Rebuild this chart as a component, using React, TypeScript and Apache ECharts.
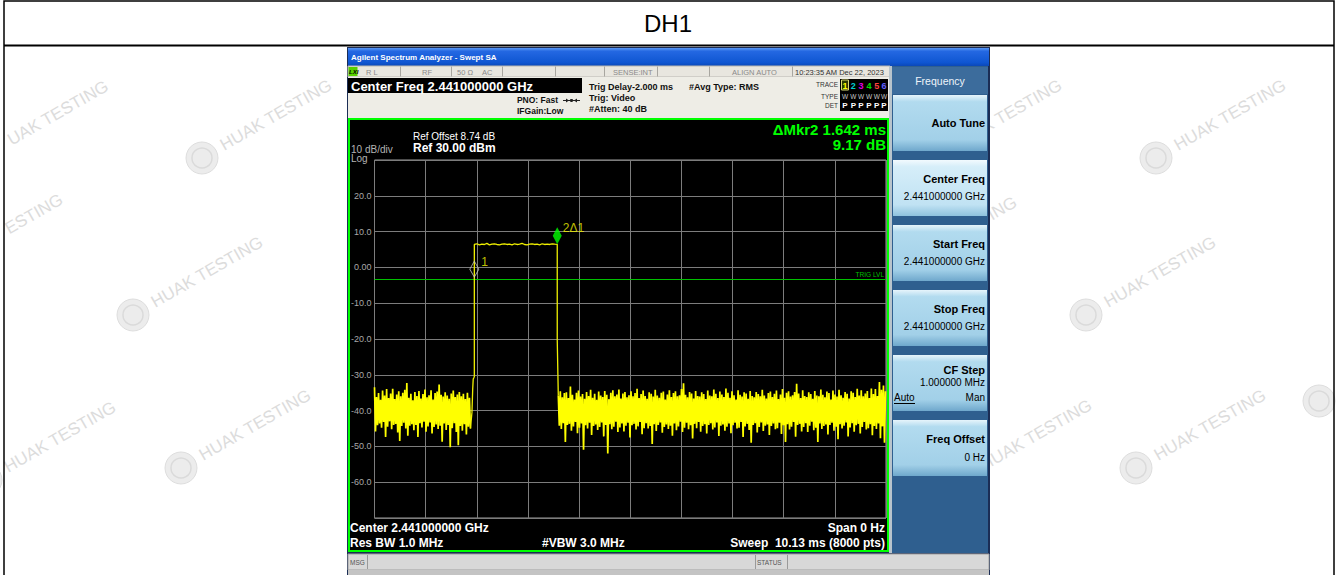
import React, { useEffect, useRef } from "react";
import * as echarts from "echarts";

const F = '"Liberation Sans", Arial, Helvetica, sans-serif';

// ---------------- chart data ----------------
const SWEEP_MS = 10.13;
const X_DIVISIONS = 10;
const REF_LEVEL_DBM = 30;
const BOTTOM_DBM = -70;
const DB_PER_DIV = 10;
const Y_TICK_VALUES = [20, 10, 0, -10, -20, -30, -40, -50, -60];
const Y_TICK_LABELS = ["20.0", "10.0", "0.00", "-10.0", "-20.0", "-30.0", "-40.0", "-50.0", "-60.0"];

const SAMPLE_STEP_MS = 0.02;
const NOISE_BEFORE_DBM = [
  -33.5, -45.8, -36.2, -44.1, -35.1, -43.6, -37.0, -44.8, -34.4, -43.2,
  -35.8, -47.4, -34.0, -44.5, -36.5, -43.0, -35.2, -45.2, -33.9, -44.0,
  -36.8, -43.7, -35.5, -46.1, -34.6, -48.5, -36.0, -44.3, -35.0, -43.4,
  -34.2, -45.0, -32.3, -47.0, -36.4, -44.2, -35.3, -43.8, -37.1, -45.5,
  -34.8, -44.0, -35.9, -47.4, -34.5, -43.5, -36.6, -44.7, -35.4, -43.1,
  -34.1, -45.9, -36.3, -44.4, -35.7, -43.3, -34.3, -46.4, -36.9, -44.6,
  -35.1, -43.9, -34.7, -45.1, -32.7, -44.2, -35.6, -48.7, -36.1, -43.6,
  -34.9, -45.4, -35.8, -44.0, -36.7, -50.2, -35.2, -44.9, -34.4, -43.5,
  -36.2, -46.0, -35.5, -49.7, -34.8, -44.3, -36.0, -45.6, -35.3, -43.8,
  -36.8, -46.7, -35.0, -44.5, -36.4, -45.0,
];
const RISE_EDGE = [
  [1.93, -40.5], [1.945, -34.0], [1.955, -31.2], [1.968, -30.8], [1.977, -30.5],
];
const PULSE_START_MS = 1.977;
const PULSE_END_MS = 3.619;
const PULSE_TOP_DBM = [
  6.4, 6.6, 6.3, 6.5, 6.4, 6.7, 6.3, 6.5, 6.6, 6.4, 6.3, 6.5, 6.6, 6.4, 6.5, 6.3, 6.6,
  6.4, 6.5, 6.7, 6.4, 6.3, 6.5, 6.6, 6.4, 6.5, 6.3, 6.6, 6.4, 6.5, 6.4, 6.6, 6.5, 6.45,
];
const FALL_EDGE_DBM = -20.2;
const NOISE_AFTER_START_MS = 3.64;
const NOISE_AFTER_DBM = [
  -35.8, -44.2, -34.6, -45.1, -36.3, -43.5, -35.1, -48.8, -34.9, -44.0,
  -36.5, -43.7, -33.3, -45.6, -35.6, -44.4, -36.9, -43.2, -35.0, -46.3,
  -34.4, -44.8, -36.1, -43.6, -35.4, -50.9, -36.7, -44.1, -34.8, -45.0,
  -35.9, -43.4, -34.2, -46.8, -36.4, -44.3, -35.3, -43.9, -37.0, -45.4,
  -34.7, -44.6, -35.8, -43.3, -36.2, -47.2, -34.5, -44.0, -35.6, -52.0,
  -36.8, -43.8, -35.0, -45.2, -34.3, -44.5, -36.0, -43.1, -35.5, -46.0,
  -34.1, -44.7, -36.6, -43.6, -35.2, -45.8, -34.8, -44.2, -36.3, -43.4,
  -35.7, -47.5, -34.6, -44.1, -36.0, -43.7, -35.1, -45.3, -33.9, -44.4,
  -36.5, -43.2, -35.4, -46.6, -34.4, -44.9, -35.9, -43.5, -36.7, -45.0,
  -34.9, -44.3, -35.3, -49.3, -36.1, -43.8, -34.2, -45.7, -35.8, -44.0,
  -36.4, -43.3, -35.0, -46.2, -34.7, -44.6, -36.9, -43.9, -35.5, -45.1,
  -34.3, -44.2, -36.2, -47.0, -35.1, -43.6, -34.6, -45.5, -36.0, -44.4,
  -35.7, -43.1, -34.0, -46.0, -32.4, -44.8, -35.6, -43.4, -36.3, -45.2,
  -34.8, -44.1, -35.2, -47.8, -36.6, -43.7, -34.5, -44.9, -35.9, -43.2,
  -36.1, -45.9, -34.9, -44.3, -35.4, -43.8, -36.8, -46.4, -34.4, -44.0,
  -35.8, -43.5, -36.0, -45.3, -34.1, -44.7, -35.3, -43.3, -36.5, -47.1,
  -34.7, -44.2, -35.5, -43.9, -36.2, -45.6, -33.8, -44.5, -35.0, -43.6,
  -36.4, -46.3, -34.6, -44.1, -35.7, -43.4, -36.9, -45.0, -34.3, -44.8,
  -35.6, -43.2, -36.1, -47.4, -34.9, -44.4, -35.2, -43.7, -36.7, -45.4,
  -34.5, -49.0, -35.9, -44.0, -36.3, -43.5, -34.8, -46.1, -35.4, -44.6,
  -36.0, -43.3, -34.2, -45.7, -35.8, -44.2, -36.6, -43.9, -35.1, -46.8,
  -34.7, -44.3, -36.2, -43.6, -35.3, -45.2, -34.4, -44.9, -36.8, -43.4,
  -35.5, -46.5, -34.0, -44.1, -36.4, -48.8, -35.0, -43.8, -34.6, -45.3,
  -36.1, -44.5, -35.7, -43.2, -34.8, -47.3, -32.5, -44.0, -35.2, -43.7,
  -36.5, -45.8, -34.3, -44.6, -35.9, -43.5, -36.2, -46.0, -34.9, -44.2,
  -35.4, -43.1, -36.7, -45.5, -34.5, -44.8, -35.8, -48.8, -36.0, -43.6,
  -34.1, -45.1, -35.6, -44.3, -36.3, -43.9, -34.7, -46.7, -35.1, -44.0,
  -36.9, -43.4, -34.4, -45.6, -35.5, -44.5, -36.1, -48.0, -34.2, -43.8,
  -35.7, -45.0, -36.4, -44.2, -34.8, -43.3, -35.3, -47.2, -36.6, -44.7,
  -34.6, -43.5, -35.0, -45.9, -36.2, -44.1, -33.9, -43.7, -35.8, -46.4,
  -34.3, -44.6, -36.0, -43.2, -35.2, -45.3, -34.5, -44.9, -36.5, -43.8,
  -33.8, -46.9, -35.4, -44.3, -34.0, -45.1, -35.9, -43.6, -32.0, -47.7,
  -34.2, -44.4, -33.0, -49.0, -34.6,
];
const MARKER_1 = [1.977, -2.72];
const MARKER_2 = [3.619, 6.45];
const TRIG_LEVEL_DBM = -3.3;

// ---------------- graphic helpers ----------------
const rect = (x: number, y: number, w: number, h: number, fill: any, z = 3, extra: any = {}) => ({
  type: "rect", shape: { x, y, width: w, height: h }, style: { fill, ...extra }, z, silent: true,
});
const txt = (x: number, y: number, text: string, font: string, fill: string, align = "left", z = 4) => ({
  type: "text", x, y, style: { text, font, fill, textAlign: align, textVerticalAlign: "middle" }, z, silent: true,
});
const ln = (x1: number, y1: number, x2: number, y2: number, stroke: string, lw = 1, z = 3) => ({
  type: "line", shape: { x1, y1, x2, y2 }, style: { stroke, lineWidth: lw }, z, silent: true,
});

const WM_ANGLE = 0.52;
const wmText = (cx: number, cy: number, text: string) => ({
  type: "text", x: cx, y: cy, rotation: WM_ANGLE, z: 1, silent: true,
  style: { text, font: `17px ${F}`, fill: "#dcdcdc", textAlign: "center", textVerticalAlign: "middle" },
});
const wmLogo = (lx: number, ly: number) => [
  { type: "circle", shape: { cx: lx, cy: ly, r: 16 }, style: { fill: "#ececec", stroke: "#dedede", lineWidth: 1 }, z: 1, silent: true },
  { type: "circle", shape: { cx: lx, cy: ly, r: 10 }, style: { fill: "none", stroke: "#dadada", lineWidth: 1.5 }, z: 1, silent: true },
];
function watermark(cx: number, cy: number) {
  return [wmText(cx, cy, "HUAK TESTING"), ...wmLogo(cx - 74, cy + 43)];
}

function buildGraphic() {
  const els: any[] = [];
  // watermarks (partial ones at the page edges show only their visible letters)
  els.push(wmText(58, 113, "UAK TESTING"));
  els.push(wmText(34, 214, "ESTING"));
  els.push(...wmLogo(1319, 401));
  [[276, 115], [207, 272], [60, 437], [255, 425],
   [1006, 115], [1230, 115], [961, 232], [1160, 272], [1036, 435], [1210, 425]]
    .forEach(([x, y]) => els.push(...watermark(x, y)));

  // page table
  els.push({ type: "rect", shape: { x: 4, y: 1, width: 1330, height: 620 }, style: { fill: "none", stroke: "#000", lineWidth: 1.5 }, z: 2, silent: true });
  els.push(ln(4, 45.5, 1334, 45.5, "#000", 2, 2));
  els.push(txt(668, 23, "DH1", `24px ${F}`, "#000", "center", 2));

  // screenshot frame
  els.push(rect(347, 47, 643, 530, "#1b2d55", 3));
  const titleGrad = new echarts.graphic.LinearGradient(0, 0, 0, 1, [
    { offset: 0, color: "#5a98f4" }, { offset: 0.18, color: "#2468e2" },
    { offset: 0.8, color: "#0f56d2" }, { offset: 1, color: "#0a48b8" },
  ]);
  els.push(rect(348, 48, 641, 18, titleGrad, 3));
  els.push(txt(351, 57.5, "Agilent Spectrum Analyzer - Swept SA", `bold 8px ${F}`, "#ffffff", "left", 4));

  // status row
  els.push(rect(348, 66, 542, 11, "#e8e6df", 3, { stroke: "#b8b6b0", lineWidth: 1 }));
  els.push(rect(348.5, 67, 9, 9, "#58d000", 4));
  els.push(txt(349, 71.8, "LXI", `italic bold 6px ${F}`, "#000", "left", 5));
  [400, 451, 502, 555, 604, 657, 709, 792].forEach((x) => els.push(ln(x + 0.5, 66.5, x + 0.5, 76.5, "#a8a6a0", 1, 4)));
  const sFont = `7.5px ${F}`;
  els.push(txt(366, 72, "R L", sFont, "#8a8a8a", "left", 4));
  els.push(txt(422, 72, "RF", sFont, "#8a8a8a", "left", 4));
  els.push(txt(457, 72, "50 Ω", sFont, "#8a8a8a", "left", 4));
  els.push(txt(482, 72, "AC", sFont, "#8a8a8a", "left", 4));
  els.push(txt(613, 72, "SENSE:INT", sFont, "#8a8a8a", "left", 4));
  els.push(txt(732, 72, "ALIGN AUTO", sFont, "#8a8a8a", "left", 4));
  els.push(txt(795, 72, "10:23:35 AM Dec 22, 2023", sFont, "#333333", "left", 4));

  // second row
  els.push(rect(348, 77, 542, 41, "#eeede6", 3));
  els.push(rect(348, 78, 234, 15, "#000000", 4));
  els.push(txt(351, 86, "Center Freq 2.441000000 GHz", `bold 13px ${F}`, "#ffffff", "left", 5));
  const bFont = `bold 8.5px ${F}`;
  els.push(txt(558, 100, "PNO: Fast", bFont, "#111", "right", 4));
  els.push(ln(563, 100.5, 580, 100.5, "#222", 1, 4));
  els.push({ type: "circle", shape: { cx: 571.5, cy: 100.5, r: 1.6 }, style: { fill: "#222" }, z: 4, silent: true });
  els.push({ type: "polygon", shape: { points: [[566, 98.5], [569, 100.5], [566, 102.5]] }, style: { fill: "#222" }, z: 4, silent: true });
  els.push({ type: "polygon", shape: { points: [[577, 98.5], [574, 100.5], [577, 102.5]] }, style: { fill: "#222" }, z: 4, silent: true });
  els.push(txt(517, 111, "IFGain:Low", bFont, "#111", "left", 4));
  const tFont = `bold 9px ${F}`;
  els.push(txt(589, 86.5, "Trig Delay-2.000 ms", tFont, "#111", "left", 4));
  els.push(txt(589, 98, "Trig: Video", tFont, "#111", "left", 4));
  els.push(txt(589, 109, "#Atten: 40 dB", tFont, "#111", "left", 4));
  els.push(txt(689, 86.5, "#Avg Type: RMS", tFont, "#111", "left", 4));

  // trace box
  const tiny = `6.5px ${F}`;
  els.push(txt(838, 84.5, "TRACE", tiny, "#333", "right", 4));
  els.push(txt(838, 96, "TYPE", tiny, "#333", "right", 4));
  els.push(txt(838, 105.5, "DET", tiny, "#333", "right", 4));
  els.push(rect(840, 79, 48, 32, "#000", 4));
  els.push(rect(841.5, 80, 7, 10, "#2b3a00", 5, { stroke: "#d8d870", lineWidth: 1 }));
  const trCols = ["#ffff00", "#00d0d0", "#e000e0", "#00e000", "#ff4040", "#6060ff"];
  const trX = [845, 853.3, 861, 869, 876.7, 884];
  trX.forEach((x, i) => {
    els.push(txt(x, 85.5, String(i + 1), `bold 9px ${F}`, trCols[i], "center", 6));
    els.push(txt(x, 96, "W", `6.5px ${F}`, "#c8c8c8", "center", 6));
    els.push(txt(x, 105.5, "P", `bold 8px ${F}`, "#ffffff", "center", 6));
  });

  // graph black area
  els.push(rect(349, 119, 539, 432, "#000000", 3, { stroke: "#00ff00", lineWidth: 2 }));
  els.push(rect(889, 66, 3, 487, "#b8c4cc", 3));

  // right soft-key panel
  els.push(rect(892, 66, 96, 487, "#2f5f8f", 3));
  els.push(rect(892, 67, 96, 27, "#3c6c9c", 4));
  els.push(txt(940, 81, "Frequency", `10.5px ${F}`, "#eef4fa", "center", 5));
  const btn = (y: number, light: boolean) => {
    const g = new echarts.graphic.LinearGradient(0, 0, 0, 1, light
      ? [{ offset: 0, color: "#f2fafe" }, { offset: 0.12, color: "#d6eef9" }, { offset: 0.8, color: "#c0e2f3" }, { offset: 1, color: "#8fc2de" }]
      : [{ offset: 0, color: "#e6f4fb" }, { offset: 0.12, color: "#b2dbef" }, { offset: 0.8, color: "#a2d0e8" }, { offset: 1, color: "#6fa8cc" }]);
    els.push(rect(893, y, 94, 56, g, 4));
  };
  [95, 160, 225, 290, 355, 420].forEach((y, i) => btn(y, i === 1));
  const bt = `bold 11px ${F}`;
  const bv = `10px ${F}`;
  els.push(txt(985, 123, "Auto Tune", bt, "#000", "right", 5));
  els.push(txt(985, 178.5, "Center Freq", bt, "#000", "right", 5));
  els.push(txt(985, 196.5, "2.441000000 GHz", bv, "#000", "right", 5));
  els.push(txt(985, 243.5, "Start Freq", bt, "#000", "right", 5));
  els.push(txt(985, 261.5, "2.441000000 GHz", bv, "#000", "right", 5));
  els.push(txt(985, 309, "Stop Freq", bt, "#000", "right", 5));
  els.push(txt(985, 326.5, "2.441000000 GHz", bv, "#000", "right", 5));
  els.push(txt(985, 369.5, "CF Step", bt, "#000", "right", 5));
  els.push(txt(985, 382.5, "1.000000 MHz", bv, "#000", "right", 5));
  els.push(txt(894, 397.5, "Auto", bv, "#000", "left", 5));
  els.push(ln(894, 403.5, 915, 403.5, "#000", 1, 5));
  els.push(txt(985, 397.5, "Man", bv, "#000", "right", 5));
  els.push(txt(985, 439, "Freq Offset", bt, "#000", "right", 5));
  els.push(txt(985, 457.5, "0 Hz", bv, "#000", "right", 5));

  // MSG bar
  els.push(rect(348, 554, 641, 16, "#d8d8d8", 3, { stroke: "#a0a0a0", lineWidth: 1 }));
  els.push(rect(348, 570, 641, 6, "#c4c4c4", 3));
  [367, 755, 787].forEach((x) => els.push(ln(x + 0.5, 555, x + 0.5, 569, "#9a9a9a", 1, 4)));
  els.push(txt(350, 562.5, "MSG", `6.5px ${F}`, "#555", "left", 4));
  els.push(txt(757, 562.5, "STATUS", `6.5px ${F}`, "#555", "left", 4));

  // texts inside graph
  els.push(txt(351, 149.5, "10 dB/div", `10px ${F}`, "#b4b4b4", "left", 20));
  els.push(txt(351, 158, "Log", `10px ${F}`, "#b4b4b4", "left", 20));
  els.push(txt(413, 136, "Ref Offset 8.74 dB", `10px ${F}`, "#ffffff", "left", 20));
  els.push(txt(413, 148, "Ref 30.00 dBm", `bold 12px ${F}`, "#ffffff", "left", 20));
  els.push(txt(886, 129, "ΔMkr2 1.642 ms", `bold 15px ${F}`, "#00ff00", "right", 20));
  els.push(txt(886, 144, "9.17 dB", `bold 15px ${F}`, "#00ff00", "right", 20));
  els.push(txt(884, 274, "TRIG LVL", `6.5px ${F}`, "#00c000", "right", 20));
  els.push(txt(350, 528, "Center 2.441000000 GHz", `bold 12px ${F}`, "#ffffff", "left", 20));
  els.push(txt(350, 543, "Res BW 1.0 MHz", `bold 12px ${F}`, "#ffffff", "left", 20));
  els.push(txt(542, 543, "#VBW 3.0 MHz", `bold 12px ${F}`, "#ffffff", "left", 20));
  els.push(txt(885, 528, "Span 0 Hz", `bold 12px ${F}`, "#ffffff", "right", 20));
  els.push(txt(885, 543, "Sweep  10.13 ms (8000 pts)", `bold 12px ${F}`, "#ffffff", "right", 20));
  return els;
}

function noiseBefore() {
  return NOISE_BEFORE_DBM.map((v, i) => [i * SAMPLE_STEP_MS, v]);
}
function pulseTrace() {
  const data: number[][] = [];
  const last = NOISE_BEFORE_DBM.length - 1;
  data.push([last * SAMPLE_STEP_MS, NOISE_BEFORE_DBM[last]]);
  RISE_EDGE.forEach((p) => data.push(p));
  const n = PULSE_TOP_DBM.length;
  PULSE_TOP_DBM.forEach((v, k) => data.push([PULSE_START_MS + (k * (PULSE_END_MS - PULSE_START_MS)) / (n - 1), v]));
  data.push([PULSE_END_MS, FALL_EDGE_DBM]);
  data.push([NOISE_AFTER_START_MS, NOISE_AFTER_DBM[0]]);
  return data;
}
function noiseAfter() {
  return NOISE_AFTER_DBM.map((v, i) => [NOISE_AFTER_START_MS + i * SAMPLE_STEP_MS, v]);
}

function buildOption(): any {
  const noiseStyle = { color: "#ffff00", width: 1.7 };
  return {
    animation: false,
    backgroundColor: "#ffffff",
    graphic: { elements: buildGraphic() },
    grid: {
      left: 374.5, top: 160, width: 511.5, height: 358,
      show: true, borderColor: "#9a9a9a", borderWidth: 1, backgroundColor: "transparent", z: 5,
    },
    xAxis: {
      type: "value", min: 0, max: SWEEP_MS, interval: SWEEP_MS / X_DIVISIONS, z: 5,
      axisLine: { show: false }, axisTick: { show: false }, axisLabel: { show: false },
      splitLine: { show: true, lineStyle: { color: "#7c7c7c", width: 1 } },
    },
    yAxis: {
      type: "value", min: BOTTOM_DBM, max: REF_LEVEL_DBM, interval: DB_PER_DIV, z: 5,
      axisLine: { show: false }, axisTick: { show: false },
      splitLine: { show: true, lineStyle: { color: "#7c7c7c", width: 1 } },
      axisLabel: {
        margin: 3, color: "#a8a8a8", fontSize: 9, fontFamily: F,
        formatter: (v: number) => {
          const i = Y_TICK_VALUES.indexOf(Math.round(v));
          return i >= 0 ? Y_TICK_LABELS[i] : "";
        },
      },
    },
    series: [
      {
        type: "line", data: noiseBefore(), symbol: "none", showSymbol: false, z: 10, silent: true,
        lineStyle: noiseStyle,
      },
      {
        type: "line", data: pulseTrace(), symbol: "none", showSymbol: false, z: 10, silent: true,
        lineStyle: { color: "#f0f000", width: 1.3 },
        markLine: {
          silent: true, symbol: ["none", "none"], label: { show: false },
          lineStyle: { color: "#00c000", width: 1, type: "solid" },
          data: [{ yAxis: TRIG_LEVEL_DBM }],
        },
      },
      {
        type: "line", data: noiseAfter(), symbol: "none", showSymbol: false, z: 10, silent: true,
        lineStyle: noiseStyle,
      },
      {
        type: "scatter", z: 12, silent: true, symbol: "diamond",
        data: [
          {
            value: MARKER_1, symbolSize: [9, 16], symbolOffset: [0, -8],
            itemStyle: { color: "rgba(0,0,0,0)", borderColor: "#c8c8c8", borderWidth: 1 },
            label: { show: true, position: "right", distance: 2, offset: [0, -7], formatter: "1", color: "#f0f000", fontSize: 12, fontFamily: F },
          },
          {
            value: MARKER_2, symbolSize: [9, 17], symbolOffset: [0, -8.5],
            itemStyle: { color: "#00ff00" },
            label: { show: true, position: "right", distance: 1, offset: [0, -8], formatter: "2Δ1", color: "#f0f000", fontSize: 12, fontFamily: F },
          },
        ],
      },
    ],
  };
}

export default function App() {
  const ref = useRef<HTMLDivElement>(null);
  useEffect(() => {
    const chart = echarts.init(ref.current!, null, { renderer: "svg" });
    chart.setOption(buildOption());
    return () => chart.dispose();
  }, []);
  return <div ref={ref} style={{ position: "absolute", left: 0, top: 0, width: 1338, height: 575 }} />;
}
